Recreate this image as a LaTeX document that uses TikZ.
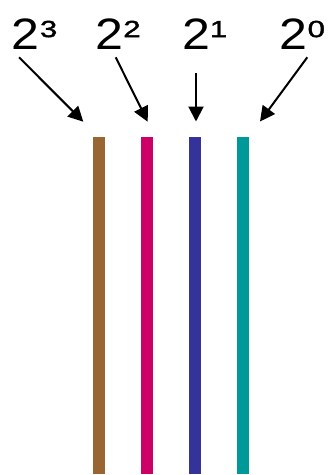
\documentclass[tikz,border=0pt]{standalone}
\usepackage{fontspec}
\setmainfont{Liberation Sans}
\newfontfamily\expfont[FakeBold=1.5]{Liberation Sans}
\usetikzlibrary{arrows.meta}
\definecolor{wbrown}{HTML}{996633}
\definecolor{wmagenta}{HTML}{CC0066}
\definecolor{wblue}{HTML}{333399}
\definecolor{wteal}{HTML}{009999}
% a power of two: large base, raised exponent
\newcommand{\powtwo}[1]{%
  \scalebox{1.14}[1]{\fontsize{44}{44}\selectfont 2}%
  \raisebox{12.2pt}{\scalebox{1.2}[0.9]{\fontsize{26}{26}\expfont #1}}}
\tikzset{
  bar/.style={fill=#1, draw=none, minimum width=12pt, minimum height=337pt, inner sep=0pt, anchor=north west},
  powlabel/.style={anchor=base west, inner sep=0pt},
  ptr/.style={line width=2pt, -{Triangle[length=15pt,width=15pt]}}
}
\begin{document}
\begin{tikzpicture}[x=1pt, y=-1pt]
  \useasboundingbox (0,0) rectangle (331,475);
  % bit weight labels
  \node[powlabel] (l3) at (11.8,49.3) {\powtwo{3}};
  \node[powlabel] (l2) at (95.2,49.3) {\powtwo{2}};
  \node[powlabel] (l1) at (181.8,49.3) {\powtwo{1}};
  \node[powlabel] (l0) at (279.5,49.3) {\powtwo{0}};
  % coloured wires
  \node[bar=wbrown] (b3) at (93,137) {};
  \node[bar=wmagenta] (b2) at (141,137) {};
  \node[bar=wblue] (b1) at (189,137) {};
  \node[bar=wteal] (b0) at (237,137) {};
  % arrow ends
  \coordinate (s3) at (19,57.3);
  \coordinate (t3) at (83.3,121.7);
  \coordinate (s2) at (115.7,57.3);
  \coordinate (t2) at (147.7,121.7);
  \coordinate (s1) at (196,73.3);
  \coordinate (t1) at (196,121.5);
  \coordinate (s0) at (307.3,57.3);
  \coordinate (t0) at (260,121.5);
  \draw[ptr] (s3) -- (t3);
  \draw[ptr] (s2) -- (t2);
  \draw[ptr] (s1) -- (t1);
  \draw[ptr] (s0) -- (t0);
\end{tikzpicture}
\end{document}
